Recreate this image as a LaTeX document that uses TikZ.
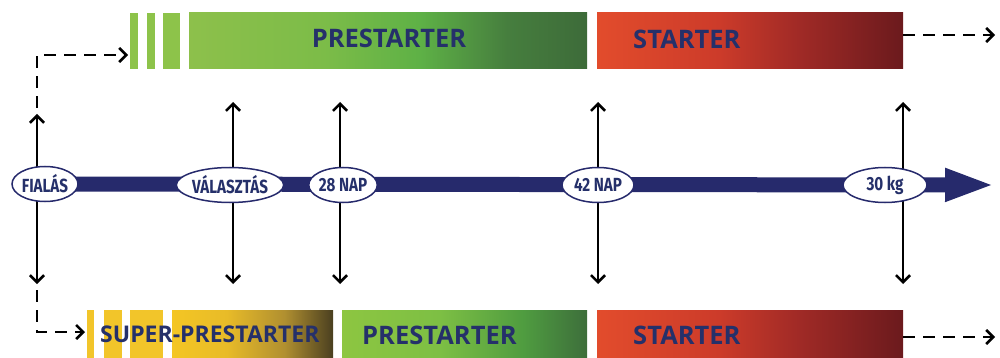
\documentclass[tikz,border=0pt]{standalone}
\usepackage{fontspec}
\setmainfont{Open Sans}
\newfontfamily\barfont{Open Sans}
\newfontfamily\ellfont{Fira Sans}[FakeStretch=0.8]
\usetikzlibrary{arrows.meta,shapes.geometric,backgrounds}
\definecolor{navy}{HTML}{262A6C}
\definecolor{txtnavy}{HTML}{25306A}
\definecolor{stripeG}{HTML}{8DC34A}
\definecolor{stripeY}{HTML}{F2C52A}
\definecolor{gA}{HTML}{8DC04B}
\definecolor{gB}{HTML}{7CBC48}
\definecolor{gC}{HTML}{5EB146}
\definecolor{gD}{HTML}{467E3E}
\definecolor{gE}{HTML}{3D6B39}
\definecolor{hA}{HTML}{8DC641}
\definecolor{hB}{HTML}{7DBF44}
\definecolor{hC}{HTML}{4F9C40}
\definecolor{hD}{HTML}{3D6E3B}
\definecolor{rA}{HTML}{E24C2C}
\definecolor{rB}{HTML}{CC3B2A}
\definecolor{rC}{HTML}{A02A26}
\definecolor{rD}{HTML}{6B1A1D}
\definecolor{yA}{HTML}{F4C624}
\definecolor{yB}{HTML}{E8BB28}
\definecolor{yC}{HTML}{B08F30}
\definecolor{yD}{HTML}{4A3F20}
\pgfdeclarehorizontalshading{gtop}{100bp}{color(0bp)=(gA); color(25bp)=(gA); color(42bp)=(gB); color(54bp)=(gC); color(65bp)=(gD); color(75bp)=(gE); color(100bp)=(gE)}
\pgfdeclarehorizontalshading{gbot}{100bp}{color(0bp)=(hA); color(25bp)=(hA); color(45bp)=(hB); color(62bp)=(hC); color(75bp)=(hD); color(100bp)=(hD)}
\pgfdeclarehorizontalshading{red}{100bp}{color(0bp)=(rA); color(25bp)=(rA); color(45bp)=(rB); color(58bp)=(rC); color(75bp)=(rD); color(100bp)=(rD)}
\pgfdeclarehorizontalshading{yel}{100bp}{color(0bp)=(yA); color(25bp)=(yA); color(42bp)=(yB); color(60bp)=(yC); color(75bp)=(yD); color(100bp)=(yD)}
\tikzset{
  bar/.style={rectangle, draw=none, inner sep=0pt, outer sep=0pt, anchor=north west},
  lbl/.style={inner sep=0pt, text=txtnavy, font=\barfont\bfseries\fontsize{25.5}{25.5}\selectfont},
  ell/.style={ellipse, draw=navy, line width=1.5pt, fill=white, inner sep=0pt, minimum height=35pt, text=txtnavy, font=\ellfont\bfseries\fontsize{19}{19}\selectfont},
  varrow/.style={line width=2.6pt, black, {Straight Barb[length=7pt,width=14pt]}-{Straight Barb[length=7pt,width=14pt]}},
  darrow/.style={line width=2.6pt, black, dash pattern=on 12pt off 8pt, -{Straight Barb[length=7pt,width=14pt]}},
  uarrow/.style={line width=2.6pt, black, -{Straight Barb[length=7pt,width=14pt]}},
  timeline/.style={line width=15pt, navy, -{Triangle[length=50pt,width=30pt]}}
}
\begin{document}
\begin{tikzpicture}[x=1pt,y=-1pt]
\useasboundingbox (0,0) rectangle (1000,358);
% top bars
\node[bar, fill=stripeG, minimum width=8pt, minimum height=56pt] (ts1) at (130,13) {};
\node[bar, fill=stripeG, minimum width=8pt, minimum height=56pt] (ts2) at (147,13) {};
\node[bar, fill=stripeG, minimum width=17pt, minimum height=56pt] (ts3) at (163,13) {};
\node[bar, shade, shading=gtop, minimum width=398pt, minimum height=56pt] (pre1) at (189,13) {};
\node[bar, shade, shading=red, minimum width=306pt, minimum height=56pt] (st1) at (597,13) {};
\node[lbl] (lpre1) at (389,38) {PRESTARTER};
\node[lbl, anchor=west] (lst1) at (633,39) {STARTER};
% bottom bars
\node[bar, fill=stripeY, minimum width=7pt, minimum height=48pt] (bs1) at (87,310) {};
\node[bar, fill=stripeY, minimum width=18pt, minimum height=48pt] (bs2) at (104,310) {};
\node[bar, fill=stripeY, minimum width=33pt, minimum height=48pt] (bs3) at (130,310) {};
\node[bar, shade, shading=yel, minimum width=161pt, minimum height=48pt] (sup) at (172,310) {};
\node[bar, shade, shading=gbot, minimum width=245pt, minimum height=48pt] (pre2) at (342,310) {};
\node[bar, shade, shading=red, minimum width=306pt, minimum height=48pt] (st2) at (597,310) {};
\node[lbl, anchor=west, font=\barfont\bfseries\fontsize{23}{23}\selectfont] (lsup) at (100,334) {SUPER-PRESTARTER};
\node[lbl, anchor=west] (lpre2) at (362,335) {PRESTARTER};
\node[lbl, anchor=west] (lst2) at (633,335) {STARTER};
% ellipses
\node[ell, minimum width=66pt] (fialas) at (45,184) {FIALÁS};
\node[ell, minimum width=94pt] (valasztas) at (230,185) {VÁLASZTÁS};
\node[ell, minimum width=66pt] (nap28) at (343,185) {28 NAP};
\node[ell, minimum width=72pt] (nap42) at (598,185) {42 NAP};
\node[ell, minimum width=84pt] (kg30) at (885,185) {30 kg};
% coordinates
\coordinate (tlend) at (995,185);
\coordinate (f0) at (37,185);
\coordinate (fup) at (37,114);
\coordinate (fdn) at (37,284);
\coordinate (fdash1) at (37,108);
\coordinate (fdash2) at (37,290);
\coordinate (a1) at (233,102); \coordinate (b1) at (233,284);
\coordinate (a2) at (340,102); \coordinate (b2) at (340,284);
\coordinate (a3) at (598,102); \coordinate (b3) at (598,284);
\coordinate (a4) at (903,102); \coordinate (b4) at (903,284);
\coordinate (r1) at (995,35);
\coordinate (r2) at (995,337);
\begin{scope}[on background layer]
\draw[uarrow] (f0) -- (fup);
\draw[uarrow] (f0) -- (fdn);
\draw[varrow] (a1) -- (b1);
\draw[varrow] (a2) -- (b2);
\draw[varrow] (a3) -- (b3);
\draw[varrow] (a4) -- (b4);
\draw[timeline] (fialas.center) -- (tlend);
\end{scope}
\draw[darrow] (fdash1) |- ([yshift=-14pt,xshift=-2pt]ts1.west);
\draw[darrow] (fdash2) |- ([yshift=2pt,xshift=-2pt]bs1.west);
\draw[darrow] ([yshift=6pt]st1.east) -- (r1);
\draw[darrow] ([yshift=-3pt]st2.east) -- (r2);
\end{tikzpicture}
\end{document}
